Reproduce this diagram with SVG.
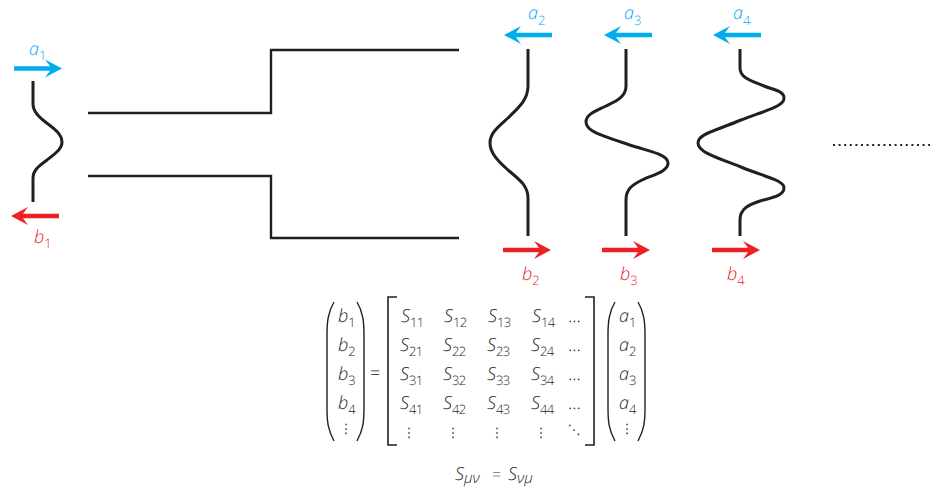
<svg xmlns="http://www.w3.org/2000/svg" width="940" height="487" viewBox="0 0 940 487">
<style>
text{font-family:"Open Sans","Liberation Sans",sans-serif;font-weight:300;fill:#231f20;font-size:18px;text-rendering:geometricPrecision}
.i{font-style:italic}
.sub{font-size:13px;font-style:normal;letter-spacing:-.8px}
.gs{font-size:15px;font-style:italic}
.d{font-family:"DejaVu Sans",sans-serif;font-size:13px;font-weight:400;text-anchor:middle}
.c{fill:#00aeef}.r{fill:#ed2024}
.w{fill:none;stroke:#231f20;stroke-width:3}
.g{fill:none;stroke:#231f20;stroke-width:2.4}
.b{fill:none;stroke:#231f20;stroke-width:1.6}
.p{fill:none;stroke:#231f20;stroke-width:1.4}
</style>
<defs>
<path id="ah" d="M0 0L-17 -9L-12 -2.2L-48 -2.2L-48 2.2L-12 2.2L-17 9Z"/>
</defs>
<rect width="940" height="487" fill="#fff"/>
<g id="connectors">
<path class="g" d="M88 113H271V50H459"/>
<path class="g" d="M88 176H271V238H459"/>
</g>
<g id="port1">
<path class="w" d="M33 81V104C33 112 40 118 48 124C56 130 62 135 62 142C62 149 55 154 47 160C39 166 33 170 33 178V202"/>
<use href="#ah" x="62" y="68.5" fill="#00aeef"/>
<use href="#ah" transform="translate(11 216) scale(-1 1)" fill="#ed2024"/>
<text class="c i" x="29" y="55">a<tspan class="sub c" dy="5">1</tspan></text>
<text class="r i" x="34" y="243">b<tspan class="sub r" dy="5">1</tspan></text>
</g>
<g id="port2">
<path class="w" d="M528 49V86C528 100 518 108 508 118C498 127 490 133 490 143C490 153 498 161 508 170C520 180 528 186 528 198V236"/>
<use href="#ah" transform="translate(504 35) scale(-1 1)" fill="#00aeef"/>
<use href="#ah" x="551" y="250" fill="#ed2024"/>
<text class="c i" x="528" y="19">a<tspan class="sub c" dy="6">2</tspan></text>
<text class="r i" x="522" y="280">b<tspan class="sub r" dy="5">2</tspan></text>
</g>
<g id="port3">
<path class="w" d="M626 49V86C626 97 616 101 606 106C596 111 586 114 586 122C586 131 600 135 627 144C650 152 668 154 668 163C668 172 652 175 642 180C632 185 626 189 626 200V236"/>
<use href="#ah" transform="translate(604 35) scale(-1 1)" fill="#00aeef"/>
<use href="#ah" x="650" y="250" fill="#ed2024"/>
<text class="c i" x="624" y="19">a<tspan class="sub c" dy="6">3</tspan></text>
<text class="r i" x="620" y="280">b<tspan class="sub r" dy="5">3</tspan></text>
</g>
<g id="port4">
<path class="w" d="M740 49V68C740 78 752 81 764 86C774 90 784 91 784 98C784 106 770 109 741 120C715 131 698 134 698 143C698 152 715 157 741 167C765 177 784 180 784 188C784 196 770 198 760 201C748 205 740 209 740 220V236"/>
<use href="#ah" transform="translate(713 35) scale(-1 1)" fill="#00aeef"/>
<use href="#ah" x="760" y="250" fill="#ed2024"/>
<text class="c i" x="733" y="19">a<tspan class="sub c" dy="6">4</tspan></text>
<text class="r i" x="727" y="280">b<tspan class="sub r" dy="5">4</tspan></text>
</g>
<g id="dots"><line x1="833" y1="145" x2="930" y2="145" stroke="#231f20" stroke-width="1.8" stroke-dasharray="2 3.6"/></g>
<g id="equation">
<path class="p" d="M334 302C328 312 327 322 327 335V408C327 422 328 430 334 441M357 302C363 312 364 322 364 335V408C364 422 363 430 357 441"/>
<path class="p" d="M615 302C609 312 608 322 608 335V408C608 422 609 430 615 441M638 302C644 312 645 322 645 335V408C645 422 644 430 638 441"/>
<path class="b" d="M397 297H388V445H397M585 297H594V445H585"/>
<text x="370" y="379">=</text>
<g id="vec-b">
<text class="i" x="338" y="322">b<tspan class="sub" dy="5">1</tspan></text>
<text class="i" x="338" y="351">b<tspan class="sub" dy="5">2</tspan></text>
<text class="i" x="338" y="380">b<tspan class="sub" dy="5">3</tspan></text>
<text class="i" x="338" y="409">b<tspan class="sub" dy="5">4</tspan></text>
<text class="d" x="346" y="433">⋮</text>
</g>
<g id="vec-a">
<text class="i" x="619" y="322">a<tspan class="sub" dy="5">1</tspan></text>
<text class="i" x="619" y="351">a<tspan class="sub" dy="5">2</tspan></text>
<text class="i" x="619" y="380">a<tspan class="sub" dy="5">3</tspan></text>
<text class="i" x="619" y="409">a<tspan class="sub" dy="5">4</tspan></text>
<text class="d" x="627" y="433">⋮</text>
</g>
<g id="matrix">
<text class="i" x="401" y="322">S<tspan class="sub" dy="5">11</tspan></text>
<text class="i" x="444" y="322">S<tspan class="sub" dy="5">12</tspan></text>
<text class="i" x="488" y="322">S<tspan class="sub" dy="5">13</tspan></text>
<text class="i" x="532" y="322">S<tspan class="sub" dy="5">14</tspan></text>
<text x="568" y="322">...</text>
<text class="i" x="400" y="351">S<tspan class="sub" dy="5">21</tspan></text>
<text class="i" x="443" y="351">S<tspan class="sub" dy="5">22</tspan></text>
<text class="i" x="487" y="351">S<tspan class="sub" dy="5">23</tspan></text>
<text class="i" x="531" y="351">S<tspan class="sub" dy="5">24</tspan></text>
<text x="568" y="351">...</text>
<text class="i" x="400" y="380">S<tspan class="sub" dy="5">31</tspan></text>
<text class="i" x="443" y="380">S<tspan class="sub" dy="5">32</tspan></text>
<text class="i" x="487" y="380">S<tspan class="sub" dy="5">33</tspan></text>
<text class="i" x="531" y="380">S<tspan class="sub" dy="5">34</tspan></text>
<text x="568" y="380">...</text>
<text class="i" x="400" y="409">S<tspan class="sub" dy="5">41</tspan></text>
<text class="i" x="443" y="409">S<tspan class="sub" dy="5">42</tspan></text>
<text class="i" x="487" y="409">S<tspan class="sub" dy="5">43</tspan></text>
<text class="i" x="531" y="409">S<tspan class="sub" dy="5">44</tspan></text>
<text x="568" y="409">...</text>
<text class="d" x="409" y="437">⋮</text>
<text class="d" x="453" y="437">⋮</text>
<text class="d" x="497" y="437">⋮</text>
<text class="d" x="541" y="437">⋮</text>
<text class="d" x="574" y="434">⋱</text>
</g>
<g id="symmetry">
<text class="i" x="455" y="480">S<tspan class="gs" dy="3">μν</tspan></text>
<text x="492" y="480" style="font-size:16px">=</text>
<text class="i" x="508" y="480">S<tspan class="gs" dy="3">νμ</tspan></text>
</g>
</g>
</svg>
